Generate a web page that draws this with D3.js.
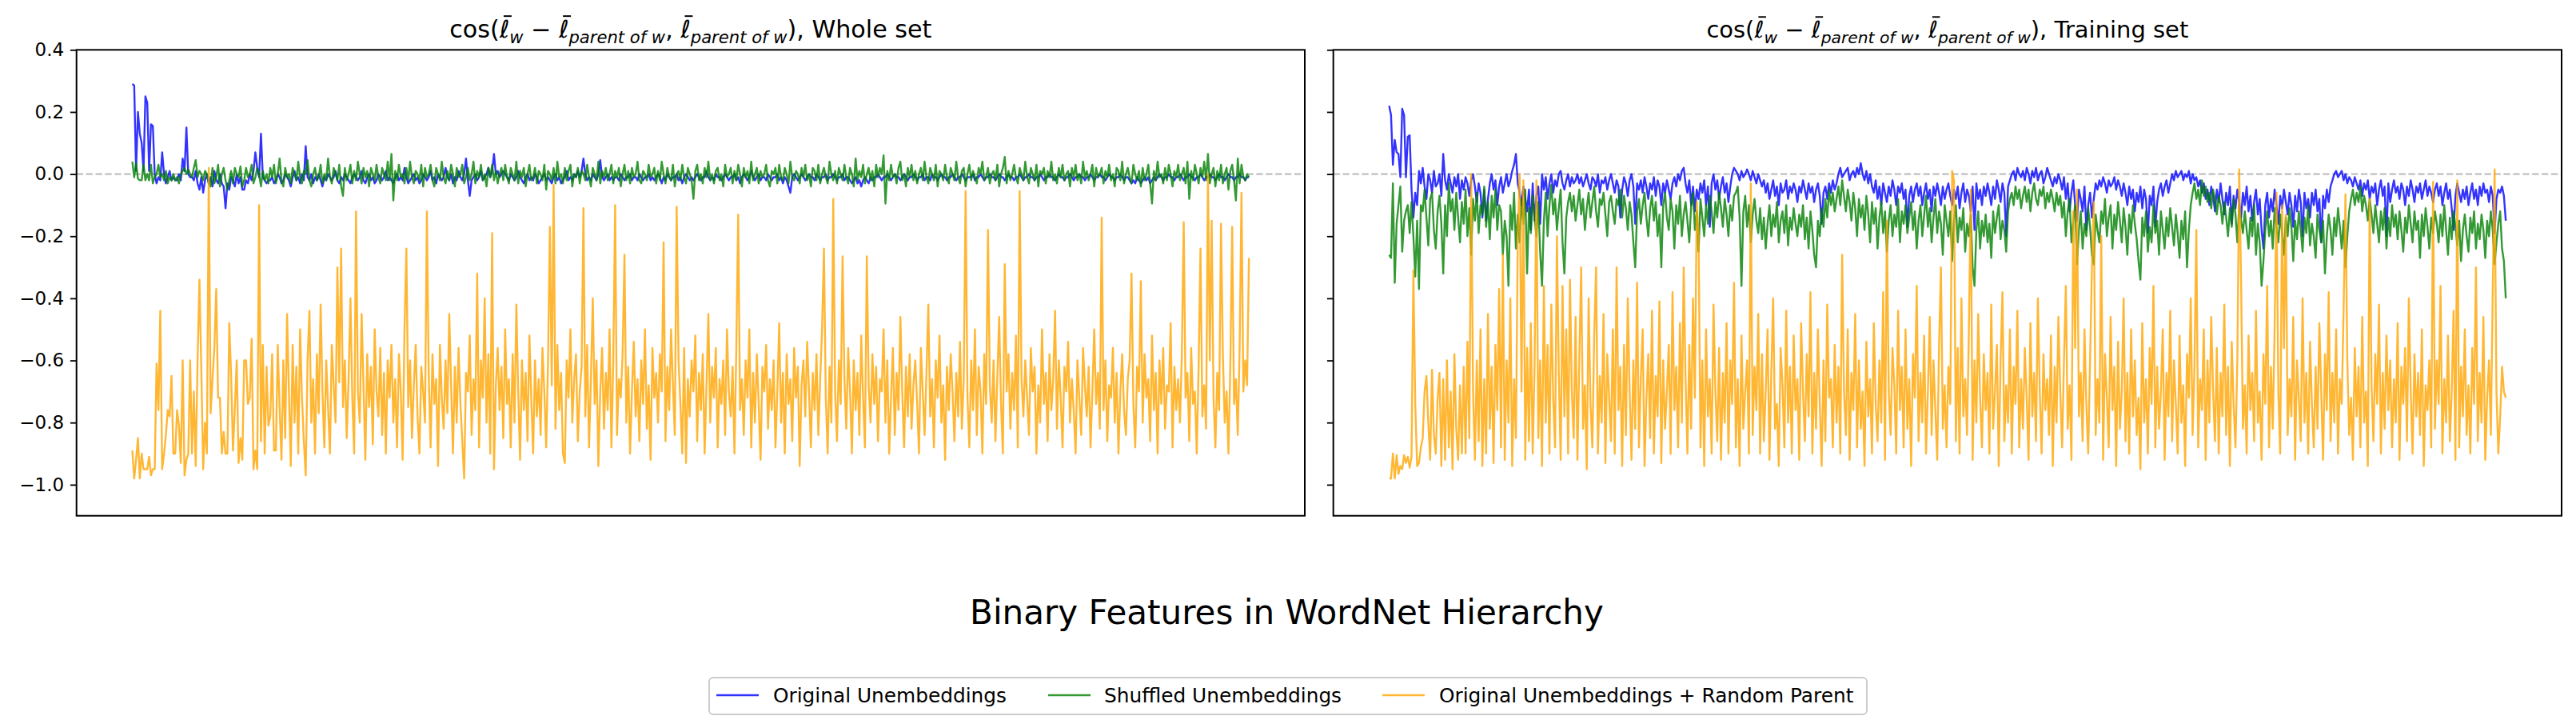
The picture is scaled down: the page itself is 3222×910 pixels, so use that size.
<!DOCTYPE html>
<html>
<head>
<meta charset="utf-8">
<script src="https://cdn.jsdelivr.net/npm/d3@7"></script>
<style>
  body { margin: 0; background: #ffffff; }
  svg text { font-family: "DejaVu Sans", sans-serif; fill: #000000; }
</style>
</head>
<body>
<div id="container_div"></div>
<script>
/********
 * Data *
 ********/

// Whole set, original unembeddings
var wholeOrig = [
  0.29, 0.285, 0.01, 0.2, 0.13, 0.1, 0.01, 0.25, 0.23, 0.01, 0.16, 0.155, 0.0, -0.03, -0.01, -0.02, 0.07, 0.0, -0.03, -0.01,
  0.01, -0.02, -0.01, -0.02, -0.02, 0.0, -0.02, 0.05, 0.01, 0.15, 0.0, -0.01, -0.01, -0.02, 0.01, -0.03, -0.05, -0.01, -0.06, -0.02,
  0.0, -0.03, -0.01, -0.04, 0.01, -0.02, -0.03, 0.0, -0.03, -0.04, -0.11, -0.03, -0.05, -0.01, -0.02, -0.04, 0.0, -0.03, -0.01, -0.05,
  -0.05, -0.02, -0.03, 0.0, -0.02, 0.01, 0.07, 0.02, -0.01, 0.13, -0.01, -0.02, -0.03, -0.02, -0.02, -0.01, -0.03, -0.02, 0.0, -0.01,
  -0.03, -0.02, 0.0, -0.01, -0.02, -0.04, -0.01, 0.01, -0.02, -0.01, -0.03, 0.0, -0.02, 0.09, -0.01, -0.02, 0.0, -0.03, -0.01, -0.02,
  0.0, -0.02, -0.04, -0.01, -0.02, 0.0, -0.01, -0.02, -0.01, 0.01, -0.02, -0.03, -0.01, -0.02, 0.0, -0.01, -0.02, -0.03, -0.01, 0.0,
  -0.01, -0.02, -0.01, 0.01, -0.02, -0.03, -0.01, 0.0, -0.02, -0.01, -0.03, -0.02, 0.0, -0.01, -0.02, -0.01, 0.01, -0.02, -0.01, -0.02,
  -0.03, -0.01, 0.0, -0.02, -0.01, -0.02, 0.02, -0.01, -0.03, -0.02, -0.01, 0.0, -0.02, -0.01, -0.03, -0.02, 0.0, -0.01, -0.02, -0.01,
  0.01, -0.02, -0.01, -0.03, 0.0, -0.01, -0.02, -0.01, 0.02, -0.01, -0.02, 0.0, -0.03, -0.01, -0.02, 0.01, -0.01, -0.02, 0.0, 0.05,
  -0.02, -0.07, -0.02, -0.01, 0.0, -0.02, -0.01, 0.01, -0.02, -0.01, 0.0, 0.02, -0.01, 0.01, 0.065, 0.0, 0.01, -0.01, 0.0, 0.01,
  0.0, -0.01, -0.02, 0.0, -0.01, -0.02, -0.01, 0.01, -0.01, -0.02, -0.03, -0.01, 0.0, -0.02, -0.01, -0.02, 0.0, -0.01, -0.03, -0.02,
  -0.01, 0.0, -0.02, -0.01, -0.02, -0.03, -0.01, 0.0, -0.02, -0.01, -0.03, -0.02, -0.01, 0.01, -0.02, -0.01, -0.02, 0.0, -0.01, 0.01,
  -0.01, 0.01, 0.05, 0.0, -0.02, -0.01, -0.02, 0.0, -0.01, -0.02, 0.0, 0.045, -0.01, -0.02, -0.01, 0.0, -0.02, -0.01, -0.02, -0.01,
  -0.01, -0.02, 0.0, -0.01, -0.02, -0.01, -0.01, 0.0, -0.02, -0.01, -0.01, -0.02, 0.0, -0.01, -0.02, -0.01, -0.01, 0.0, -0.02, -0.01,
  -0.02, -0.01, 0.0, -0.01, -0.03, -0.01, -0.02, 0.0, -0.01, -0.02, -0.01, -0.01, 0.0, -0.02, -0.01, -0.03, -0.01, 0.0, -0.01, -0.02,
  -0.01, -0.02, -0.01, 0.0, -0.01, -0.02, -0.01, -0.01, 0.01, -0.01, -0.02, -0.01, -0.02, 0.0, -0.01, -0.01, -0.02, -0.01, 0.0, -0.01,
  -0.02, -0.01, -0.01, 0.0, -0.02, -0.01, -0.03, -0.01, 0.0, -0.01, -0.02, -0.01, 0.01, -0.01, -0.02, -0.01, 0.0, -0.02, -0.01, -0.01,
  -0.02, 0.0, -0.01, -0.02, -0.01, -0.01, 0.0, -0.02, -0.01, -0.03, -0.01, -0.02, -0.04, -0.06, -0.01, 0.0, -0.01, -0.02, -0.01, 0.0,
  -0.01, -0.02, -0.01, 0.0, -0.01, -0.01, -0.02, 0.0, -0.01, -0.02, -0.01, -0.01, 0.0, -0.02, -0.01, -0.01, 0.0, -0.01, -0.02, -0.01,
  -0.01, 0.0, -0.02, -0.01, -0.01, -0.02, -0.03, -0.02, -0.01, -0.03, -0.02, -0.04, -0.02, -0.01, -0.02, -0.03, -0.01, -0.02, -0.01, -0.01,
  0.0, -0.01, -0.02, -0.01, -0.01, 0.0, -0.01, -0.02, -0.01, 0.0, -0.01, -0.01, -0.02, -0.01, 0.0, -0.01, -0.02, -0.01, -0.01, 0.0,
  -0.01, -0.02, -0.01, -0.01, 0.0, -0.02, -0.01, -0.01, -0.02, 0.0, -0.01, -0.01, -0.02, -0.01, 0.0, -0.01, -0.01, -0.02, -0.01, -0.01,
  0.0, -0.01, -0.02, -0.01, -0.01, 0.0, -0.01, -0.02, -0.01, -0.01, -0.01, 0.0, -0.02, -0.01, -0.01, 0.0, -0.01, -0.02, -0.01, -0.01,
  0.0, -0.01, -0.01, -0.02, -0.01, 0.0, -0.01, -0.01, -0.02, -0.01, 0.0, -0.01, -0.01, -0.02, -0.01, -0.01, 0.0, -0.01, -0.02, -0.01,
  -0.01, 0.0, -0.01, -0.01, -0.02, -0.01, -0.01, 0.0, -0.01, -0.02, -0.01, -0.01, 0.0, -0.01, -0.01, -0.02, -0.01, 0.0, -0.01, -0.01,
  -0.02, -0.01, -0.01, 0.0, -0.01, -0.02, -0.01, -0.01, 0.0, -0.01, -0.01, -0.02, -0.01, -0.01, 0.0, -0.01, -0.02, -0.01, -0.01, 0.0,
  -0.01, -0.01, -0.02, -0.01, 0.0, -0.01, -0.01, -0.02, -0.01, -0.01, 0.0, -0.01, -0.02, -0.01, -0.01, -0.02, -0.03, -0.02, -0.03, -0.01,
  -0.02, -0.03, -0.02, -0.01, -0.02, -0.01, -0.03, -0.02, -0.01, -0.02, -0.01, 0.0, -0.01, -0.02, -0.01, -0.01, 0.0, -0.01, -0.01, -0.02,
  -0.01, -0.01, 0.0, -0.01, -0.02, -0.01, -0.01, 0.0, -0.01, -0.01, -0.02, -0.01, -0.01, 0.0, -0.01, -0.02, -0.01, -0.01, 0.0, -0.01,
  -0.01, -0.02, -0.01, 0.0, -0.01, -0.01, -0.02, -0.01, 0.0, -0.01, -0.01, -0.02, -0.01, -0.01, 0.0, -0.01, -0.01, -0.02, -0.01, -0.01
];

// Whole set, shuffled unembeddings
var wholeShuf = [
  0.04, -0.01, 0.035, -0.015, -0.02, -0.02, 0.03, -0.02, 0.0, -0.02, 0.03, -0.03, -0.01, 0.0, 0.03, -0.01, 0.0, -0.02, 0.01, -0.03,
  -0.01, -0.02, 0.0, -0.02, -0.01, -0.03, 0.0, 0.01, 0.02, 0.0, 0.015, 0.0, -0.01, 0.02, 0.045, -0.01, 0.01, 0.0, -0.02, 0.01,
  0.0, -0.03, -0.04, 0.02, -0.03, -0.01, 0.03, -0.04, 0.0, 0.02, -0.02, -0.05, -0.02, 0.01, -0.03, 0.02, 0.0, -0.01, 0.025, -0.04,
  -0.02, 0.02, -0.01, 0.0, 0.03, -0.03, -0.01, 0.02, 0.0, -0.04, 0.01, -0.02, 0.0, -0.03, 0.02, -0.01, 0.03, -0.03, 0.0, 0.05,
  -0.02, -0.04, 0.02, -0.01, 0.0, -0.03, 0.02, 0.0, -0.02, 0.04, -0.01, -0.03, 0.01, 0.0, 0.045, -0.02, -0.04, 0.0, 0.02, -0.02,
  -0.01, 0.03, -0.03, 0.0, -0.02, 0.05, -0.01, -0.03, 0.02, 0.0, -0.02, 0.03, -0.04, -0.07, 0.02, -0.02, 0.0, 0.03, -0.03, 0.01,
  -0.02, 0.04, 0.0, -0.03, 0.02, -0.01, 0.01, -0.04, 0.02, 0.0, -0.02, 0.03, -0.01, -0.03, 0.02, 0.0, -0.02, 0.04, -0.02, 0.065,
  -0.085, 0.01, -0.02, 0.03, -0.01, 0.0, -0.03, 0.02, -0.02, 0.04, -0.01, -0.03, 0.01, 0.0, -0.02, 0.03, -0.04, 0.02, -0.01, 0.0,
  0.03, -0.02, -0.04, 0.02, 0.0, -0.02, 0.04, -0.01, -0.03, 0.01, -0.02, 0.03, 0.0, -0.04, 0.02, -0.01, 0.0, 0.03, -0.03, -0.01,
  0.02, -0.02, 0.0, 0.04, -0.03, 0.01, -0.01, 0.03, -0.02, 0.0, -0.04, 0.02, -0.01, 0.03, -0.02, 0.01, -0.03, 0.0, 0.02, -0.02,
  0.03, -0.01, -0.03, 0.02, 0.0, -0.02, 0.04, -0.03, 0.01, -0.01, 0.02, -0.04, 0.0, 0.03, -0.02, -0.01, 0.02, -0.03, 0.01, 0.0,
  -0.02, 0.03, -0.05, 0.01, 0.0, -0.02, 0.02, -0.03, 0.04, -0.01, 0.0, -0.03, 0.02, -0.02, 0.01, 0.03, -0.04, 0.0, -0.01, 0.02,
  -0.03, 0.01, 0.0, -0.02, 0.03, -0.01, -0.04, 0.02, 0.0, -0.02, 0.04, -0.03, 0.01, -0.01, 0.02, -0.02, 0.0, 0.03, -0.03, 0.01,
  -0.01, 0.02, -0.04, 0.0, 0.03, -0.02, 0.01, -0.03, 0.02, -0.01, 0.0, 0.04, -0.02, -0.03, 0.01, 0.0, -0.02, 0.03, -0.01, 0.0,
  0.02, -0.03, 0.01, -0.02, 0.04, 0.0, -0.03, 0.02, -0.01, -0.02, 0.03, -0.04, 0.0, 0.01, -0.02, 0.03, -0.01, -0.03, 0.02, 0.0,
  -0.02, -0.08, 0.01, 0.03, -0.02, 0.0, -0.03, 0.02, -0.01, 0.04, -0.02, 0.0, -0.03, 0.01, 0.02, -0.02, 0.0, -0.04, 0.03, -0.01,
  0.0, 0.02, -0.03, 0.01, -0.02, 0.03, 0.0, -0.04, 0.02, -0.01, 0.01, -0.03, 0.04, -0.02, 0.0, 0.02, -0.03, 0.01, -0.01, 0.0,
  0.03, -0.02, -0.04, 0.01, 0.0, 0.02, -0.03, 0.03, -0.01, -0.02, 0.02, 0.0, -0.03, 0.04, -0.01, -0.02, 0.01, 0.0, -0.03, 0.02,
  -0.01, 0.03, -0.02, 0.0, -0.04, 0.02, 0.01, -0.02, 0.03, -0.03, 0.0, 0.02, -0.01, -0.03, 0.04, 0.0, -0.02, 0.01, -0.03, 0.02,
  0.0, -0.02, 0.03, -0.01, -0.03, 0.02, 0.0, -0.04, 0.05, -0.02, 0.01, -0.01, 0.03, -0.03, 0.0, 0.02, -0.02, 0.01, -0.04, 0.03,
  -0.01, 0.02, 0.0, 0.06, -0.095, 0.01, -0.02, 0.03, -0.01, 0.0, -0.03, 0.02, 0.04, -0.02, 0.0, -0.04, 0.02, -0.01, 0.03, -0.02,
  0.01, -0.03, 0.0, 0.02, -0.02, 0.04, -0.01, -0.03, 0.02, 0.0, -0.02, 0.03, -0.04, 0.01, 0.0, -0.02, 0.03, -0.01, -0.03, 0.02,
  0.0, -0.02, 0.04, -0.01, -0.03, 0.01, 0.02, -0.04, 0.0, 0.03, -0.02, 0.01, -0.01, -0.03, 0.02, 0.0, 0.04, -0.02, -0.01, 0.02,
  -0.03, 0.0, 0.01, -0.02, 0.03, -0.04, 0.0, 0.02, 0.055, -0.03, 0.01, -0.02, 0.0, 0.03, -0.01, -0.03, 0.02, 0.0, -0.02, 0.04,
  -0.01, -0.03, 0.02, 0.0, -0.02, 0.03, -0.04, 0.01, 0.0, 0.02, -0.03, 0.01, -0.01, 0.04, -0.02, 0.0, -0.03, 0.02, -0.01, 0.03,
  -0.02, 0.0, 0.01, -0.04, 0.02, -0.01, 0.03, -0.02, 0.0, -0.03, 0.04, -0.01, 0.01, -0.02, 0.0, 0.03, -0.04, 0.02, -0.01, 0.0,
  0.02, -0.03, 0.01, -0.01, 0.03, -0.02, 0.0, -0.04, 0.02, 0.01, -0.02, 0.04, -0.03, 0.0, 0.02, -0.01, -0.03, 0.03, 0.0, -0.02,
  0.01, -0.04, 0.02, -0.02, 0.0, 0.03, -0.03, -0.095, 0.01, -0.02, 0.04, -0.01, 0.0, -0.03, 0.02, -0.02, 0.03, 0.0, -0.04, 0.01,
  -0.01, 0.03, -0.02, 0.0, 0.02, -0.03, 0.04, -0.08, 0.01, -0.02, 0.03, 0.0, -0.03, 0.02, -0.01, 0.04, -0.02, 0.065, -0.03, 0.0,
  0.02, -0.04, 0.01, -0.02, 0.03, -0.03, 0.0, 0.02, -0.05, 0.01, 0.03, -0.02, -0.085, 0.05, -0.03, 0.03, -0.01, -0.02, 0.0, -0.01
];

// Whole set, original unembeddings + random parent
var wholeRand = [
  -0.89, -0.98, -0.92, -0.85, -0.98, -0.9, -0.95, -0.95, -0.95, -0.91, -0.97, -0.95, -0.95, -0.61, -0.76, -0.44, -0.95, -0.9, -0.84, -0.76,
  -0.78, -0.65, -0.9, -0.9, -0.76, -0.81, -0.93, -0.6, -0.97, -0.92, -0.9, -0.6, -0.9, -0.7, -0.94, -0.6, -0.34, -0.63, -0.95, -0.8,
  -0.9, 0.02, -0.77, -0.66, -0.56, -0.37, -0.72, -0.72, -0.9, -0.83, -0.9, -0.9, -0.48, -0.65, -0.89, -0.75, -0.6, -0.93, -0.85, -0.92,
  -0.6, -0.6, -0.74, -0.72, -0.53, -0.95, -0.89, -0.95, -0.1, -0.86, -0.55, -0.9, -0.62, -0.81, -0.78, -0.58, -0.89, -0.89, -0.55, -0.75,
  -0.92, -0.6, -0.85, -0.45, -0.7, -0.94, -0.55, -0.8, -0.62, -0.9, -0.5, -0.72, -0.86, -0.97, -0.6, -0.44, -0.8, -0.66, -0.9, -0.58,
  -0.77, -0.42, -0.7, -0.88, -0.6, -0.75, -0.9, -0.55, -0.68, -0.8, -0.3, -0.67, -0.24, -0.75, -0.6, -0.85, -0.66, -0.4, -0.72, -0.9,
  -0.12, -0.7, -0.8, -0.45, -0.68, -0.92, -0.58, -0.75, -0.62, -0.87, -0.5, -0.7, -0.78, -0.56, -0.84, -0.64, -0.9, -0.6, -0.72, -0.55,
  -0.8, -0.66, -0.88, -0.58, -0.7, -0.92, -0.5, -0.24, -0.75, -0.6, -0.85, -0.68, -0.55, -0.78, -0.9, -0.62, -0.7, -0.8, -0.12, -0.65,
  -0.88, -0.58, -0.74, -0.66, -0.94, -0.55, -0.72, -0.82, -0.6, -0.77, -0.45, -0.68, -0.9, -0.62, -0.8, -0.56, -0.74, -0.86, -0.98, -0.64,
  -0.7, -0.52, -0.84, -0.66, -0.76, -0.32, -0.88, -0.6, -0.72, -0.4, -0.8, -0.58, -0.9, -0.19, -0.95, -0.68, -0.56, -0.76, -0.62, -0.85,
  -0.5, -0.74, -0.66, -0.88, -0.58, -0.8, -0.42, -0.7, -0.92, -0.6, -0.76, -0.64, -0.86, -0.52, -0.72, -0.9, -0.6, -0.78, -0.66, -0.84,
  -0.56, -0.7, -0.88, -0.6, -0.17, -0.68, -0.035, -0.82, -0.55, -0.76, -0.64, -0.9, -0.93, -0.6, -0.72, -0.5, -0.8, -0.66, -0.58, -0.86,
  -0.7, -0.62, -0.11, -0.78, -0.55, -0.88, -0.66, -0.4, -0.74, -0.6, -0.94, -0.7, -0.56, -0.82, -0.64, -0.76, -0.5, -0.88, -0.6, -0.1,
  -0.84, -0.66, -0.72, -0.58, -0.26, -0.8, -0.62, -0.9, -0.7, -0.54, -0.78, -0.66, -0.86, -0.6, -0.74, -0.5, -0.82, -0.68, -0.92, -0.56,
  -0.72, -0.64, -0.8, -0.58, -0.7, -0.22, -0.86, -0.62, -0.76, -0.5, -0.68, -0.84, -0.105, -0.6, -0.74, -0.9, -0.56, -0.93, -0.66, -0.78,
  -0.6, -0.7, -0.52, -0.86, -0.64, -0.76, -0.58, -0.9, -0.68, -0.45, -0.8, -0.62, -0.72, -0.56, -0.88, -0.66, -0.74, -0.6, -0.84, -0.5,
  -0.7, -0.78, -0.62, -0.9, -0.56, -0.13, -0.76, -0.66, -0.84, -0.6, -0.72, -0.5, -0.88, -0.64, -0.8, -0.58, -0.74, -0.92, -0.62, -0.7,
  -0.55, -0.82, -0.66, -0.76, -0.6, -0.88, -0.7, -0.48, -0.8, -0.64, -0.9, -0.58, -0.74, -0.66, -0.86, -0.56, -0.72, -0.62, -0.94, -0.68,
  -0.6, -0.78, -0.54, -0.7, -0.88, -0.64, -0.76, -0.58, -0.84, -0.66, -0.5, -0.24, -0.72, -0.9, -0.62, -0.8, -0.08, -0.7, -0.86, -0.6,
  -0.74, -0.265, -0.66, -0.82, -0.56, -0.7, -0.9, -0.6, -0.76, -0.64, -0.84, -0.52, -0.72, -0.88, -0.265, -0.68, -0.8, -0.58, -0.74, -0.62,
  -0.86, -0.66, -0.7, -0.5, -0.8, -0.6, -0.9, -0.72, -0.56, -0.84, -0.64, -0.76, -0.46, -0.7, -0.88, -0.62, -0.78, -0.58, -0.82, -0.68,
  -0.6, -0.74, -0.9, -0.56, -0.7, -0.84, -0.64, -0.42, -0.78, -0.66, -0.88, -0.6, -0.72, -0.52, -0.8, -0.68, -0.92, -0.62, -0.76, -0.58,
  -0.7, -0.86, -0.64, -0.78, -0.54, -0.82, -0.66, -0.055, -0.72, -0.88, -0.6, -0.76, -0.5, -0.84, -0.62, -0.7, -0.9, -0.58, -0.74, -0.18,
  -0.68, -0.8, -0.6, -0.86, -0.66, -0.46, -0.74, -0.9, -0.29, -0.7, -0.58, -0.82, -0.64, -0.76, -0.52, -0.88, -0.055, -0.66, -0.78, -0.6,
  -0.72, -0.84, -0.56, -0.7, -0.62, -0.9, -0.68, -0.8, -0.5, -0.74, -0.64, -0.86, -0.58, -0.76, -0.66, -0.44, -0.82, -0.6, -0.72, -0.88,
  -0.62, -0.7, -0.54, -0.8, -0.66, -0.76, -0.9, -0.6, -0.72, -0.84, -0.56, -0.68, -0.78, -0.62, -0.88, -0.7, -0.5, -0.74, -0.64, -0.82,
  -0.14, -0.76, -0.6, -0.86, -0.68, -0.72, -0.56, -0.8, -0.64, -0.9, -0.7, -0.58, -0.76, -0.84, -0.66, -0.6, -0.32, -0.74, -0.88, -0.62,
  -0.7, -0.345, -0.8, -0.58, -0.72, -0.66, -0.86, -0.52, -0.76, -0.64, -0.9, -0.6, -0.74, -0.56, -0.82, -0.68, -0.7, -0.48, -0.88, -0.62,
  -0.76, -0.66, -0.8, -0.58, -0.155, -0.72, -0.64, -0.86, -0.56, -0.74, -0.7, -0.9, -0.62, -0.24, -0.78, -0.68, -0.82, 0.0, -0.6, -0.15,
  -0.72, -0.88, -0.64, -0.76, -0.16, -0.58, -0.8, -0.7, -0.9, -0.62, -0.17, -0.74, -0.66, -0.84, -0.56, -0.06, -0.7, -0.6, -0.68, -0.27
];

// Training set, original unembeddings
var trainOrig = [
  0.22, 0.19, 0.03, 0.11, 0.07, 0.065, -0.01, 0.21, 0.19, -0.01, 0.12, 0.125, -0.05, -0.14, -0.06, -0.1, 0.01, -0.03, 0.02, -0.04,
  -0.08, 0.0, -0.02, -0.06, 0.01, -0.04, -0.03, 0.0, -0.07, 0.065, -0.02, -0.05, 0.0, -0.03, -0.06, -0.01, -0.04, 0.0, -0.08, -0.02,
  -0.05, -0.01, -0.03, -0.07, -0.02, 0.0, -0.04, -0.09, -0.03, -0.06, -0.14, -0.05, -0.15, -0.08, -0.03, 0.0, -0.05, -0.02, -0.1, -0.04,
  -0.01, -0.06, -0.03, 0.0, -0.04, -0.02, 0.01, 0.03, 0.065, -0.03, -0.06, -0.1, -0.04, -0.08, -0.12, -0.05, -0.18, -0.03, -0.15, -0.07,
  -0.04, -0.16, 0.0, -0.05, -0.01, -0.08, -0.03, 0.0, -0.06, -0.02, -0.04, 0.0, 0.01, -0.03, -0.05, -0.02, 0.0, -0.04, -0.01, -0.03,
  -0.02, 0.0, -0.03, -0.01, -0.04, -0.02, 0.0, -0.03, -0.05, -0.01, -0.02, -0.04, 0.0, -0.06, -0.02, -0.03, -0.01, -0.05, -0.02, 0.0,
  -0.03, -0.06, -0.02, -0.04, -0.14, -0.05, -0.01, -0.03, -0.07, -0.02, 0.0, -0.04, -0.16, -0.03, -0.05, -0.02, -0.06, -0.01, -0.04, -0.08,
  -0.03, -0.05, -0.01, -0.07, -0.02, -0.04, -0.1, -0.03, -0.06, -0.02, -0.05, -0.08, -0.03, -0.01, -0.04, 0.0, -0.02, 0.01, 0.02, -0.03,
  -0.06, -0.02, -0.1, -0.04, -0.12, -0.05, -0.08, -0.03, -0.06, -0.02, -0.1, -0.04, -0.17, -0.03, 0.0, -0.05, -0.02, -0.08, -0.04, -0.01,
  -0.06, -0.03, -0.09, -0.04, 0.0, 0.02, 0.01, 0.0, -0.02, 0.01, -0.01, 0.0, 0.015, 0.0, -0.02, 0.01, -0.01, -0.03, 0.0, -0.02,
  -0.04, -0.02, -0.06, -0.03, -0.08, -0.05, -0.02, -0.07, -0.04, -0.1, -0.03, -0.06, -0.05, -0.02, -0.08, -0.04, -0.06, -0.03, -0.05, -0.09,
  -0.04, -0.06, -0.02, -0.05, -0.08, -0.03, -0.06, -0.04, -0.09, -0.05, -0.03, -0.07, -0.16, -0.06, -0.04, -0.08, -0.03, -0.06, -0.02, -0.05,
  -0.03, 0.0, 0.02, -0.01, 0.0, 0.01, 0.02, -0.02, 0.0, 0.01, -0.01, 0.02, 0.0, 0.035, 0.0, -0.02, 0.01, -0.03, 0.0, -0.04,
  -0.06, -0.02, -0.08, -0.04, -0.1, -0.03, -0.06, -0.09, -0.04, -0.07, -0.02, -0.05, -0.1, -0.04, -0.06, -0.03, -0.08, -0.05, -0.17, -0.07,
  -0.04, -0.09, -0.05, -0.03, -0.07, -0.04, -0.1, -0.06, -0.03, -0.08, -0.05, -0.12, -0.04, -0.07, -0.03, -0.06, -0.1, -0.04, -0.08, -0.05,
  -0.03, -0.07, -0.1, -0.05, -0.08, -0.04, -0.11, -0.06, -0.03, -0.09, -0.05, -0.07, -0.12, -0.04, -0.18, -0.03, -0.08, -0.05, -0.1, -0.04,
  -0.07, -0.03, -0.06, -0.1, -0.04, -0.08, -0.02, -0.05, -0.09, -0.03, -0.06, -0.2, -0.04, -0.02, 0.0, 0.01, -0.02, 0.02, 0.0, -0.01,
  0.01, -0.02, 0.02, 0.0, -0.03, 0.01, -0.01, 0.02, -0.02, 0.0, 0.01, -0.03, -0.01, 0.02, 0.0, -0.02, -0.04, -0.01, -0.03, 0.0,
  -0.02, -0.05, -0.01, -0.08, -0.03, -0.12, -0.06, -0.02, -0.1, -0.15, -0.05, -0.08, -0.12, -0.04, -0.18, -0.1, -0.06, -0.14, -0.08, -0.03,
  -0.05, -0.02, -0.04, -0.01, -0.03, -0.06, -0.02, -0.04, -0.03, -0.01, -0.05, -0.02, -0.04, -0.07, -0.03, -0.06, -0.1, -0.04, -0.08, -0.05,
  -0.12, -0.06, -0.09, -0.04, -0.11, -0.05, -0.08, -0.19, -0.07, -0.1, -0.04, -0.17, -0.09, -0.05, -0.03, -0.07, -0.04, -0.02, -0.06, -0.03,
  0.0, -0.02, 0.01, -0.01, 0.0, 0.01, -0.02, 0.0, -0.01, 0.01, -0.03, 0.0, -0.02, -0.01, -0.04, -0.02, -0.06, -0.03, -0.08, -0.05,
  -0.1, -0.04, -0.07, -0.12, -0.05, -0.09, -0.03, -0.08, -0.13, -0.06, -0.1, -0.04, -0.16, -0.07, -0.11, -0.05, -0.09, -0.14, -0.06, -0.1,
  -0.04, -0.12, -0.07, -0.15, -0.09, -0.05, -0.13, -0.08, -0.18, -0.24, -0.1, -0.06, -0.14, -0.08, -0.12, -0.05, -0.1, -0.16, -0.07, -0.11,
  -0.05, -0.09, -0.13, -0.06, -0.1, -0.17, -0.07, -0.12, -0.05, -0.09, -0.2, -0.06, -0.11, -0.08, -0.14, -0.06, -0.1, -0.05, -0.12, -0.08,
  -0.22, -0.07, -0.11, -0.05, -0.09, -0.04, -0.02, 0.0, 0.01, -0.01, 0.0, 0.01, -0.02, 0.0, -0.03, -0.01, -0.02, -0.04, -0.01, -0.03,
  -0.05, -0.02, -0.07, -0.03, -0.05, -0.02, -0.08, -0.04, -0.06, -0.03, -0.1, -0.05, -0.02, -0.07, -0.04, -0.2, -0.03, -0.09, -0.05, -0.02,
  -0.06, -0.04, -0.08, -0.03, -0.05, -0.1, -0.04, -0.07, -0.02, -0.05, -0.09, -0.04, -0.06, -0.03, -0.08, -0.05, -0.02, -0.07, -0.04, -0.06,
  -0.09, -0.05, -0.03, -0.07, -0.04, -0.1, -0.06, -0.03, -0.08, -0.05, -0.11, -0.18, -0.07, -0.03, -0.06, -0.09, -0.05, -0.08, -0.04, -0.1,
  -0.06, -0.03, -0.08, -0.05, -0.1, -0.04, -0.07, -0.03, -0.06, -0.05, -0.09, -0.04, -0.07, -0.19, -0.08, -0.05, -0.06, -0.04, -0.07, -0.15
];

// Training set, shuffled unembeddings
var trainShuf = [
  -0.26, -0.27, -0.03, -0.35, -0.16, -0.1, -0.04, -0.25, -0.15, -0.12, -0.1, -0.19, -0.09, -0.2, -0.33, -0.15, -0.37, -0.1, -0.12, -0.05,
  -0.14, -0.23, -0.08, -0.06, -0.18, -0.24, -0.12, -0.07, -0.16, -0.32, -0.1, -0.2, -0.03, -0.12, -0.08, -0.18, -0.06, -0.14, -0.22, -0.09,
  -0.16, -0.05, -0.2, -0.11, -0.26, -0.08, -0.15, -0.06, -0.19, -0.1, -0.13, -0.04, -0.17, -0.09, -0.21, -0.07, -0.14, -0.05, -0.18, -0.1,
  -0.12, -0.26, -0.15, -0.2, -0.36, -0.1, -0.18, -0.06, -0.24, -0.13, -0.22, -0.08, -0.16, -0.05, -0.32, -0.11, -0.19, -0.07, -0.14, -0.2,
  -0.09, -0.25, -0.36, -0.15, -0.06, -0.2, -0.1, -0.035, -0.13, -0.08, -0.18, -0.11, -0.05, -0.22, -0.32, -0.14, -0.09, -0.06, -0.12, -0.07,
  -0.15, -0.1, -0.05, -0.13, -0.08, -0.18, -0.11, -0.06, -0.14, -0.09, -0.04, -0.12, -0.17, -0.08, -0.1, -0.06, -0.13, -0.2, -0.09, -0.07,
  -0.12, -0.16, -0.08, -0.1, -0.05, -0.14, -0.07, -0.11, -0.18, -0.09, -0.13, -0.22, -0.3, -0.12, -0.08, -0.16, -0.1, -0.06, -0.14, -0.2,
  -0.11, -0.07, -0.15, -0.09, -0.2, -0.13, -0.3, -0.1, -0.06, -0.14, -0.18, -0.08, -0.12, -0.24, -0.1, -0.16, -0.07, -0.2, -0.13, -0.09,
  -0.15, -0.22, -0.1, -0.06, -0.18, -0.12, -0.25, -0.08, -0.14, -0.2, -0.1, -0.16, -0.07, -0.12, -0.19, -0.09, -0.14, -0.06, -0.11, -0.17,
  -0.08, -0.13, -0.2, -0.1, -0.15, -0.07, -0.06, -0.04, -0.14, -0.36, -0.12, -0.07, -0.17, -0.1, -0.22, -0.13, -0.08, -0.15, -0.19, -0.11,
  -0.21, -0.14, -0.24, -0.16, -0.1, -0.2, -0.13, -0.17, -0.09, -0.22, -0.15, -0.12, -0.19, -0.1, -0.23, -0.14, -0.18, -0.11, -0.16, -0.2,
  -0.13, -0.17, -0.1, -0.21, -0.14, -0.24, -0.12, -0.18, -0.26, -0.3, -0.15, -0.2, -0.11, -0.17, -0.08, -0.14, -0.05, -0.1, -0.06, -0.12,
  -0.08, -0.04, -0.1, -0.02, -0.07, -0.12, -0.05, -0.09, -0.15, -0.06, -0.11, -0.2, -0.08, -0.14, -0.1, -0.18, -0.07, -0.13, -0.22, -0.09,
  -0.16, -0.11, -0.24, -0.14, -0.09, -0.19, -0.12, -0.25, -0.15, -0.1, -0.2, -0.13, -0.17, -0.08, -0.22, -0.12, -0.16, -0.1, -0.19, -0.14,
  -0.09, -0.18, -0.12, -0.24, -0.15, -0.1, -0.2, -0.13, -0.07, -0.17, -0.11, -0.22, -0.14, -0.08, -0.19, -0.12, -0.16, -0.26, -0.1, -0.15,
  -0.2, -0.12, -0.28, -0.15, -0.1, -0.22, -0.14, -0.18, -0.11, -0.25, -0.16, -0.2, -0.13, -0.3, -0.36, -0.18, -0.12, -0.24, -0.15, -0.2,
  -0.13, -0.22, -0.16, -0.27, -0.12, -0.19, -0.14, -0.1, -0.21, -0.15, -0.18, -0.25, -0.12, -0.08, -0.06, -0.1, -0.04, -0.08, -0.05, -0.11,
  -0.07, -0.04, -0.09, -0.05, -0.12, -0.06, -0.03, -0.08, -0.1, -0.05, -0.07, -0.04, -0.11, -0.06, -0.09, -0.05, -0.08, -0.12, -0.06, -0.1,
  -0.07, -0.14, -0.09, -0.2, -0.12, -0.08, -0.22, -0.15, -0.1, -0.29, -0.18, -0.12, -0.24, -0.16, -0.2, -0.11, -0.17, -0.26, -0.29, -0.13,
  -0.18, -0.22, -0.12, -0.16, -0.08, -0.2, -0.14, -0.1, -0.24, -0.13, -0.18, -0.09, -0.15, -0.22, -0.11, -0.17, -0.26, -0.13, -0.19, -0.1,
  -0.16, -0.21, -0.28, -0.34, -0.14, -0.2, -0.12, -0.25, -0.17, -0.22, -0.1, -0.19, -0.15, -0.26, -0.12, -0.18, -0.24, -0.14, -0.2, -0.11,
  -0.17, -0.23, -0.13, -0.19, -0.27, -0.15, -0.21, -0.12, -0.3, -0.18, -0.1, -0.06, -0.03, -0.08, -0.05, -0.1, -0.02, -0.07, -0.04, -0.09,
  -0.06, -0.11, -0.05, -0.08, -0.13, -0.07, -0.1, -0.16, -0.09, -0.14, -0.2, -0.11, -0.17, -0.08, -0.13, -0.22, -0.1, -0.15, -0.19, -0.12,
  -0.18, -0.24, -0.14, -0.2, -0.1, -0.26, -0.16, -0.22, -0.36, -0.28, -0.18, -0.12, -0.2, -0.15, -0.24, -0.11, -0.17, -0.22, -0.13, -0.19,
  -0.26, -0.14, -0.2, -0.11, -0.17, -0.28, -0.15, -0.21, -0.12, -0.18, -0.25, -0.14, -0.19, -0.1, -0.23, -0.16, -0.2, -0.27, -0.13, -0.18,
  -0.22, -0.15, -0.32, -0.2, -0.13, -0.18, -0.26, -0.14, -0.2, -0.11, -0.17, -0.24, -0.15, -0.3, -0.2, -0.12, -0.08, -0.05, -0.1, -0.06,
  -0.09, -0.04, -0.12, -0.07, -0.1, -0.15, -0.08, -0.13, -0.19, -0.1, -0.16, -0.22, -0.12, -0.18, -0.11, -0.24, -0.14, -0.2, -0.1, -0.17,
  -0.13, -0.21, -0.12, -0.18, -0.25, -0.14, -0.19, -0.1, -0.16, -0.22, -0.12, -0.18, -0.15, -0.27, -0.13, -0.2, -0.11, -0.17, -0.24, -0.14,
  -0.19, -0.12, -0.16, -0.22, -0.13, -0.2, -0.1, -0.18, -0.26, -0.14, -0.21, -0.12, -0.17, -0.23, -0.15, -0.28, -0.18, -0.13, -0.2, -0.25,
  -0.14, -0.19, -0.12, -0.24, -0.16, -0.21, -0.13, -0.18, -0.27, -0.15, -0.2, -0.12, -0.18, -0.29, -0.22, -0.16, -0.12, -0.24, -0.28, -0.4
];

// Training set, original unembeddings + random parent
var trainRand = [
  -0.98, -0.98, -0.9, -0.98, -0.905, -0.965, -0.94, -0.95, -0.905, -0.93, -0.91, -0.945, -0.91, -0.31, -0.74, -0.94, -0.93, -0.88, -0.85, -0.7,
  -0.65, -0.8, -0.92, -0.63, -0.84, -0.9, -0.72, -0.64, -0.94, -0.66, -0.92, -0.6, -0.88, -0.7, -0.95, -0.58, -0.82, -0.92, -0.68, -0.9,
  -0.62, -0.9, -0.54, -0.85, 0.0, -0.7, -0.92, -0.6, -0.86, -0.5, -0.94, -0.66, -0.9, -0.45, -0.82, -0.62, -0.93, -0.55, -0.76, -0.37,
  -0.88, -0.26, -0.92, -0.6, -0.8, -0.4, -0.94, -0.66, -0.85, -0.2, 0.0, -0.7, -0.02, -0.92, -0.56, -0.86, -0.48, -0.9, -0.62, -0.02,
  -0.85, -0.6, -0.94, -0.36, -0.8, -0.55, -0.9, -0.42, -0.72, -0.88, -0.2, -0.64, -0.92, -0.36, -0.78, -0.5, -0.9, -0.34, -0.7, -0.85,
  -0.46, -0.92, -0.6, -0.3, -0.82, -0.68, -0.95, -0.4, -0.74, -0.88, -0.52, -0.3, -0.9, -0.65, -0.8, -0.45, -0.93, -0.58, -0.72, -0.86,
  -0.5, -0.9, -0.3, -0.76, -0.62, -0.94, -0.55, -0.84, -0.4, -0.7, -0.92, -0.6, -0.82, -0.35, -0.88, -0.66, -0.5, -0.94, -0.72, -0.58,
  -0.85, -0.44, -0.9, -0.65, -0.78, -0.41, -0.93, -0.6, -0.82, -0.7, -0.55, -0.9, -0.38, -0.76, -0.62, -0.88, -0.48, -0.8, -0.3, -0.66,
  -0.9, -0.55, -0.82, -0.4, -0.72, -0.09, -0.2, -0.88, -0.6, -0.94, -0.5, -0.78, -0.66, -0.9, -0.42, -0.7, -0.86, -0.56, -0.92, -0.64,
  -0.8, -0.48, -0.9, -0.6, -0.74, -0.35, -0.88, -0.66, -0.94, -0.52, -0.82, -0.7, -0.6, -0.9, -0.03, -0.84, -0.62, -0.76, -0.45, -0.9,
  -0.58, -0.86, -0.7, -0.5, -0.92, -0.64, -0.4, -0.82, -0.74, -0.94, -0.56, -0.68, -0.88, -0.44, -0.8, -0.62, -0.9, -0.52, -0.76, -0.66,
  -0.92, -0.48, -0.7, -0.86, -0.58, -0.78, -0.38, -0.9, -0.64, -0.82, -0.5, -0.74, -0.94, -0.6, -0.86, -0.42, -0.72, -0.66, -0.88, -0.55,
  -0.8, -0.62, -0.9, -0.26, -0.7, -0.84, -0.5, -0.92, -0.64, -0.76, -0.45, -0.88, -0.6, -0.82, -0.7, -0.94, -0.54, -0.78, -0.66, -0.9,
  -0.48, -0.74, -0.86, -0.6, -0.8, -0.38, -0.92, -0.15, -0.7, -0.84, -0.56, -0.68, -0.9, -0.44, -0.76, -0.62, -0.88, -0.5, -0.82, -0.66,
  -0.94, -0.58, -0.72, -0.36, -0.86, -0.64, -0.8, -0.52, -0.9, -0.7, -0.46, -0.84, -0.6, -0.76, -0.92, -0.55, -0.3, -0.82, -0.68, -0.88,
  -0.62, -0.74, 0.01, -0.02, -0.86, -0.56, -0.9, -0.4, -0.78, -0.66, -0.84, -0.5, -0.05, -0.92, -0.6, -0.8, -0.45, -0.72, -0.88, -0.58,
  -0.76, -0.64, -0.9, -0.42, -0.82, -0.7, -0.55, -0.94, -0.6, -0.38, -0.86, -0.68, -0.8, -0.5, -0.9, -0.62, -0.74, -0.44, -0.88, -0.66,
  -0.82, -0.56, -0.72, -0.92, -0.48, -0.78, -0.64, -0.86, -0.4, -0.7, -0.9, -0.58, -0.76, -0.66, -0.84, -0.52, -0.94, -0.62, -0.8, -0.46,
  -0.7, -0.88, -0.6, -0.36, -0.82, -0.68, -0.92, -0.12, -0.56, -0.05, -0.78, -0.64, -0.86, -0.5, -0.74, -0.9, -0.6, -0.3, -0.09, -0.84,
  -0.66, -0.8, -0.2, -0.92, -0.58, -0.72, -0.88, -0.46, -0.76, -0.62, -0.94, -0.54, -0.82, -0.7, -0.4, -0.86, -0.64, -0.9, -0.5, -0.78,
  -0.6, -0.84, -0.72, -0.95, -0.48, -0.8, -0.66, -0.9, -0.56, -0.74, -0.36, -0.88, -0.62, -0.82, -0.7, -0.5, -0.92, -0.64, -0.78, -0.44,
  -0.86, -0.6, -0.74, -0.9, -0.52, -0.8, -0.68, -0.94, -0.58, -0.72, -0.4, -0.84, -0.62, -0.18, -0.88, -0.66, -0.76, -0.5, -0.92, -0.6,
  -0.8, -0.46, -0.7, -0.86, -0.56, -0.9, -0.64, -0.78, -0.42, -0.84, -0.62, -0.94, -0.54, -0.74, -0.88, -0.6, 0.015, -0.34, -0.82, -0.68,
  -0.9, -0.52, -0.76, -0.64, -0.86, -0.44, -0.8, -0.7, -0.92, -0.58, -0.74, -0.36, -0.88, -0.62, -0.82, -0.5, -0.06, -0.7, -0.9, -0.1,
  -0.56, -0.13, -0.84, -0.66, -0.78, -0.46, -0.92, -0.6, -0.72, -0.86, -0.4, -0.8, -0.64, -0.9, -0.54, -0.74, -0.88, -0.62, -0.82, -0.48,
  -0.7, -0.92, -0.58, -0.76, -0.38, -0.86, -0.64, -0.8, -0.5, -0.9, -0.66, -0.74, -0.44, -0.065, -0.6, -0.84, -0.72, -0.92, -0.56, -0.78,
  -0.62, -0.88, -0.46, -0.8, -0.7, -0.94, -0.08, -0.68, -0.86, -0.58, -0.74, -0.42, -0.9, -0.64, -0.82, -0.52, -0.76, -0.6, -0.88, -0.66,
  -0.8, -0.48, -0.92, -0.62, -0.74, -0.56, -0.86, -0.4, -0.7, -0.9, -0.58, -0.78, -0.64, -0.84, -0.5, -0.94, -0.68, -0.76, -0.6, -0.88,
  -0.025, -0.82, -0.6, -0.74, -0.36, -0.9, -0.66, -0.8, -0.52, -0.86, -0.7, -0.44, -0.92, -0.02, -0.88, -0.62, -0.78, -0.5, -0.84, -0.68,
  -0.9, -0.56, -0.74, -0.3, -0.86, -0.64, -0.8, -0.46, -0.92, -0.72, -0.6, -0.84, -0.38, 0.015, -0.7, -0.9, -0.78, -0.62, -0.7, -0.72
];

var yTicks = [-1.0, -0.8, -0.6, -0.4, -0.2, 0.0, 0.2, 0.4];
var panelTitles = ['Whole set', 'Training set'];
var seriesNames = ['Original Unembeddings', 'Shuffled Unembeddings', 'Original Unembeddings + Random Parent'];
var seriesColours = ['blue', 'green', 'orange'];
var figureTitle = 'Binary Features in WordNet Hierarchy';

/**********
 * Layout *
 **********/

var gvWidth = 3222;
var gvHeight = 910;
var gvPlotTop = 62.3;
var gvPlotBottom = 644.7;
var gvPanels = [
  { left: 95.7, right: 1632, series: [wholeOrig, wholeShuf, wholeRand], title: panelTitles[0], labels: true },
  { left: 1667.7, right: 3204, series: [trainOrig, trainShuf, trainRand], title: panelTitles[1], labels: false }
];

/*
 * Shrink or grow a text element so it spans a given width
 */
function fitWidth(pvSel, pvTarget) {
  var lvWidth = pvSel.node().getComputedTextLength();
  var lvSize = parseFloat(pvSel.style('font-size'));
  pvSel.style('font-size', (lvSize * pvTarget / lvWidth) + 'px');
}

/*
 * Panel title with the mathtext-like cosine expression
 */
function addTitle(pvG, pvX, pvLabel) {

  var lvText = pvG.append('text')
    .attr('x', pvX)
    .attr('y', 47.3)
    .attr('text-anchor', 'middle')
    .style('font-size', '24px');

  var lvShift = 0;
  var lvChars = 0;
  var lvEllIdx = [];

  function plain(pvStr) {
    var t = lvText.append('tspan').text(pvStr);
    if (lvShift) { t.attr('dy', '-0.224em'); lvShift = 0; }
    lvChars += pvStr.length;
  }
  function ell() {
    var t = lvText.append('tspan').style('font-style', 'italic').text('\u2113');
    if (lvShift) { t.attr('dy', '-0.224em'); lvShift = 0; }
    lvEllIdx.push(lvChars);
    lvChars += 1;
  }
  function sub(pvStr) {
    lvText.append('tspan')
      .style('font-style', 'italic')
      .style('font-size', '70%')
      .attr('dy', '0.32em')
      .text(pvStr);
    lvShift = 1;
    lvChars += pvStr.length;
  }

  plain('cos(');
  ell(); sub('w');
  plain(' \u2212 ');
  ell(); sub('parent of w');
  plain(', ');
  ell(); sub('parent of w');
  plain('), ' + pvLabel);

  fitWidth(lvText, 603);

  // bars over the ells
  var lvSize = parseFloat(lvText.style('font-size'));
  var lvNode = lvText.node();
  lvEllIdx.forEach(function(idx) {
    var p = lvNode.getStartPositionOfChar(idx);
    pvG.append('line')
      .attr('x1', p.x + 0.17 * lvSize)
      .attr('x2', p.x + 0.5 * lvSize)
      .attr('y1', p.y - 0.9 * lvSize)
      .attr('y2', p.y - 0.9 * lvSize)
      .attr('stroke', '#000')
      .attr('stroke-width', 0.065 * lvSize);
  });
}

/*********
 * Build *
 *********/

var svg = d3.select('#container_div')
  .append('svg')
  .attr('width', gvWidth)
  .attr('height', gvHeight)
  .style('display', 'block');

var y = d3.scaleLinear()
  .domain([-1.1, 0.4])
  .range([gvPlotBottom, gvPlotTop]);

gvPanels.forEach(function(pvPanel, pi) {

  var n = pvPanel.series[0].length;
  var x = d3.scaleLinear()
    .domain([-(n - 1) * 0.05, (n - 1) * 1.05])
    .range([pvPanel.left, pvPanel.right]);

  var g = svg.append('g');

  g.append('clipPath')
    .attr('id', 'clip' + pi)
    .append('rect')
    .attr('x', pvPanel.left)
    .attr('y', gvPlotTop)
    .attr('width', pvPanel.right - pvPanel.left)
    .attr('height', gvPlotBottom - gvPlotTop);

  var plot = g.append('g').attr('clip-path', 'url(#clip' + pi + ')');

  // reference line at zero
  plot.append('line')
    .attr('x1', pvPanel.left)
    .attr('x2', pvPanel.right)
    .attr('y1', y(0))
    .attr('y2', y(0))
    .attr('stroke', 'gray')
    .attr('stroke-opacity', 0.5)
    .attr('stroke-width', 2.25)
    .attr('stroke-dasharray', '8.3,3.6');

  var line = d3.line()
    .x(function(d, i) { return x(i); })
    .y(function(d) { return y(d); });

  pvPanel.series.forEach(function(s, si) {
    plot.append('path')
      .datum(s)
      .attr('d', line)
      .attr('fill', 'none')
      .attr('stroke', seriesColours[si])
      .attr('stroke-opacity', 0.8)
      .attr('stroke-width', 2.4)
      .attr('stroke-linejoin', 'round');
  });

  // y axis
  var yAxis = d3.axisLeft(y)
    .tickValues(yTicks)
    .tickSize(7.8)
    .tickPadding(7.8)
    .tickFormat(pvPanel.labels ? d3.format('.1f') : function() { return ''; });

  var ax = g.append('g')
    .attr('transform', 'translate(' + pvPanel.left + ',0)')
    .call(yAxis);
  ax.select('.domain').remove();
  ax.selectAll('.tick line').attr('stroke', '#000').attr('stroke-width', 1.8);
  ax.selectAll('.tick text')
    .style('font-family', '"DejaVu Sans", sans-serif')
    .style('font-size', '23px')
    .attr('fill', '#000');

  // frame
  g.append('rect')
    .attr('x', pvPanel.left)
    .attr('y', gvPlotTop)
    .attr('width', pvPanel.right - pvPanel.left)
    .attr('height', gvPlotBottom - gvPlotTop)
    .attr('fill', 'none')
    .attr('stroke', '#000')
    .attr('stroke-width', 2);

  addTitle(g, (pvPanel.left + pvPanel.right) / 2, pvPanel.title);
});

// figure title
var sup = svg.append('text')
  .attr('x', 1609.5)
  .attr('y', 780)
  .attr('text-anchor', 'middle')
  .style('font-size', '41px')
  .text(figureTitle);
fitWidth(sup, 793);

/**********
 * Legend *
 **********/

var lvLegend = svg.append('g');

lvLegend.append('rect')
  .attr('x', 887)
  .attr('y', 847)
  .attr('width', 2335 - 887)
  .attr('height', 893 - 847)
  .attr('rx', 5)
  .attr('fill', '#fff')
  .attr('fill-opacity', 0.8)
  .attr('stroke', '#cccccc')
  .attr('stroke-width', 2);

var lvHandleX = [896, 1311, 1729];
var lvTextX = [967, 1381, 1800];

seriesNames.forEach(function(name, i) {
  lvLegend.append('line')
    .attr('x1', lvHandleX[i])
    .attr('x2', lvHandleX[i] + 53)
    .attr('y1', 869)
    .attr('y2', 869)
    .attr('stroke', seriesColours[i])
    .attr('stroke-opacity', 0.8)
    .attr('stroke-width', 2.6);

  var t = lvLegend.append('text')
    .attr('class', 'legendText')
    .attr('x', lvTextX[i])
    .attr('y', 869)
    .attr('dominant-baseline', 'central')
    .style('font-size', '24px')
    .text(name);
  if (i === 0) { fitWidth(t, 292); }
});

var lvLegendSize = d3.select('.legendText').style('font-size');
lvLegend.selectAll('.legendText').style('font-size', lvLegendSize);

</script>
</body>
</html>
